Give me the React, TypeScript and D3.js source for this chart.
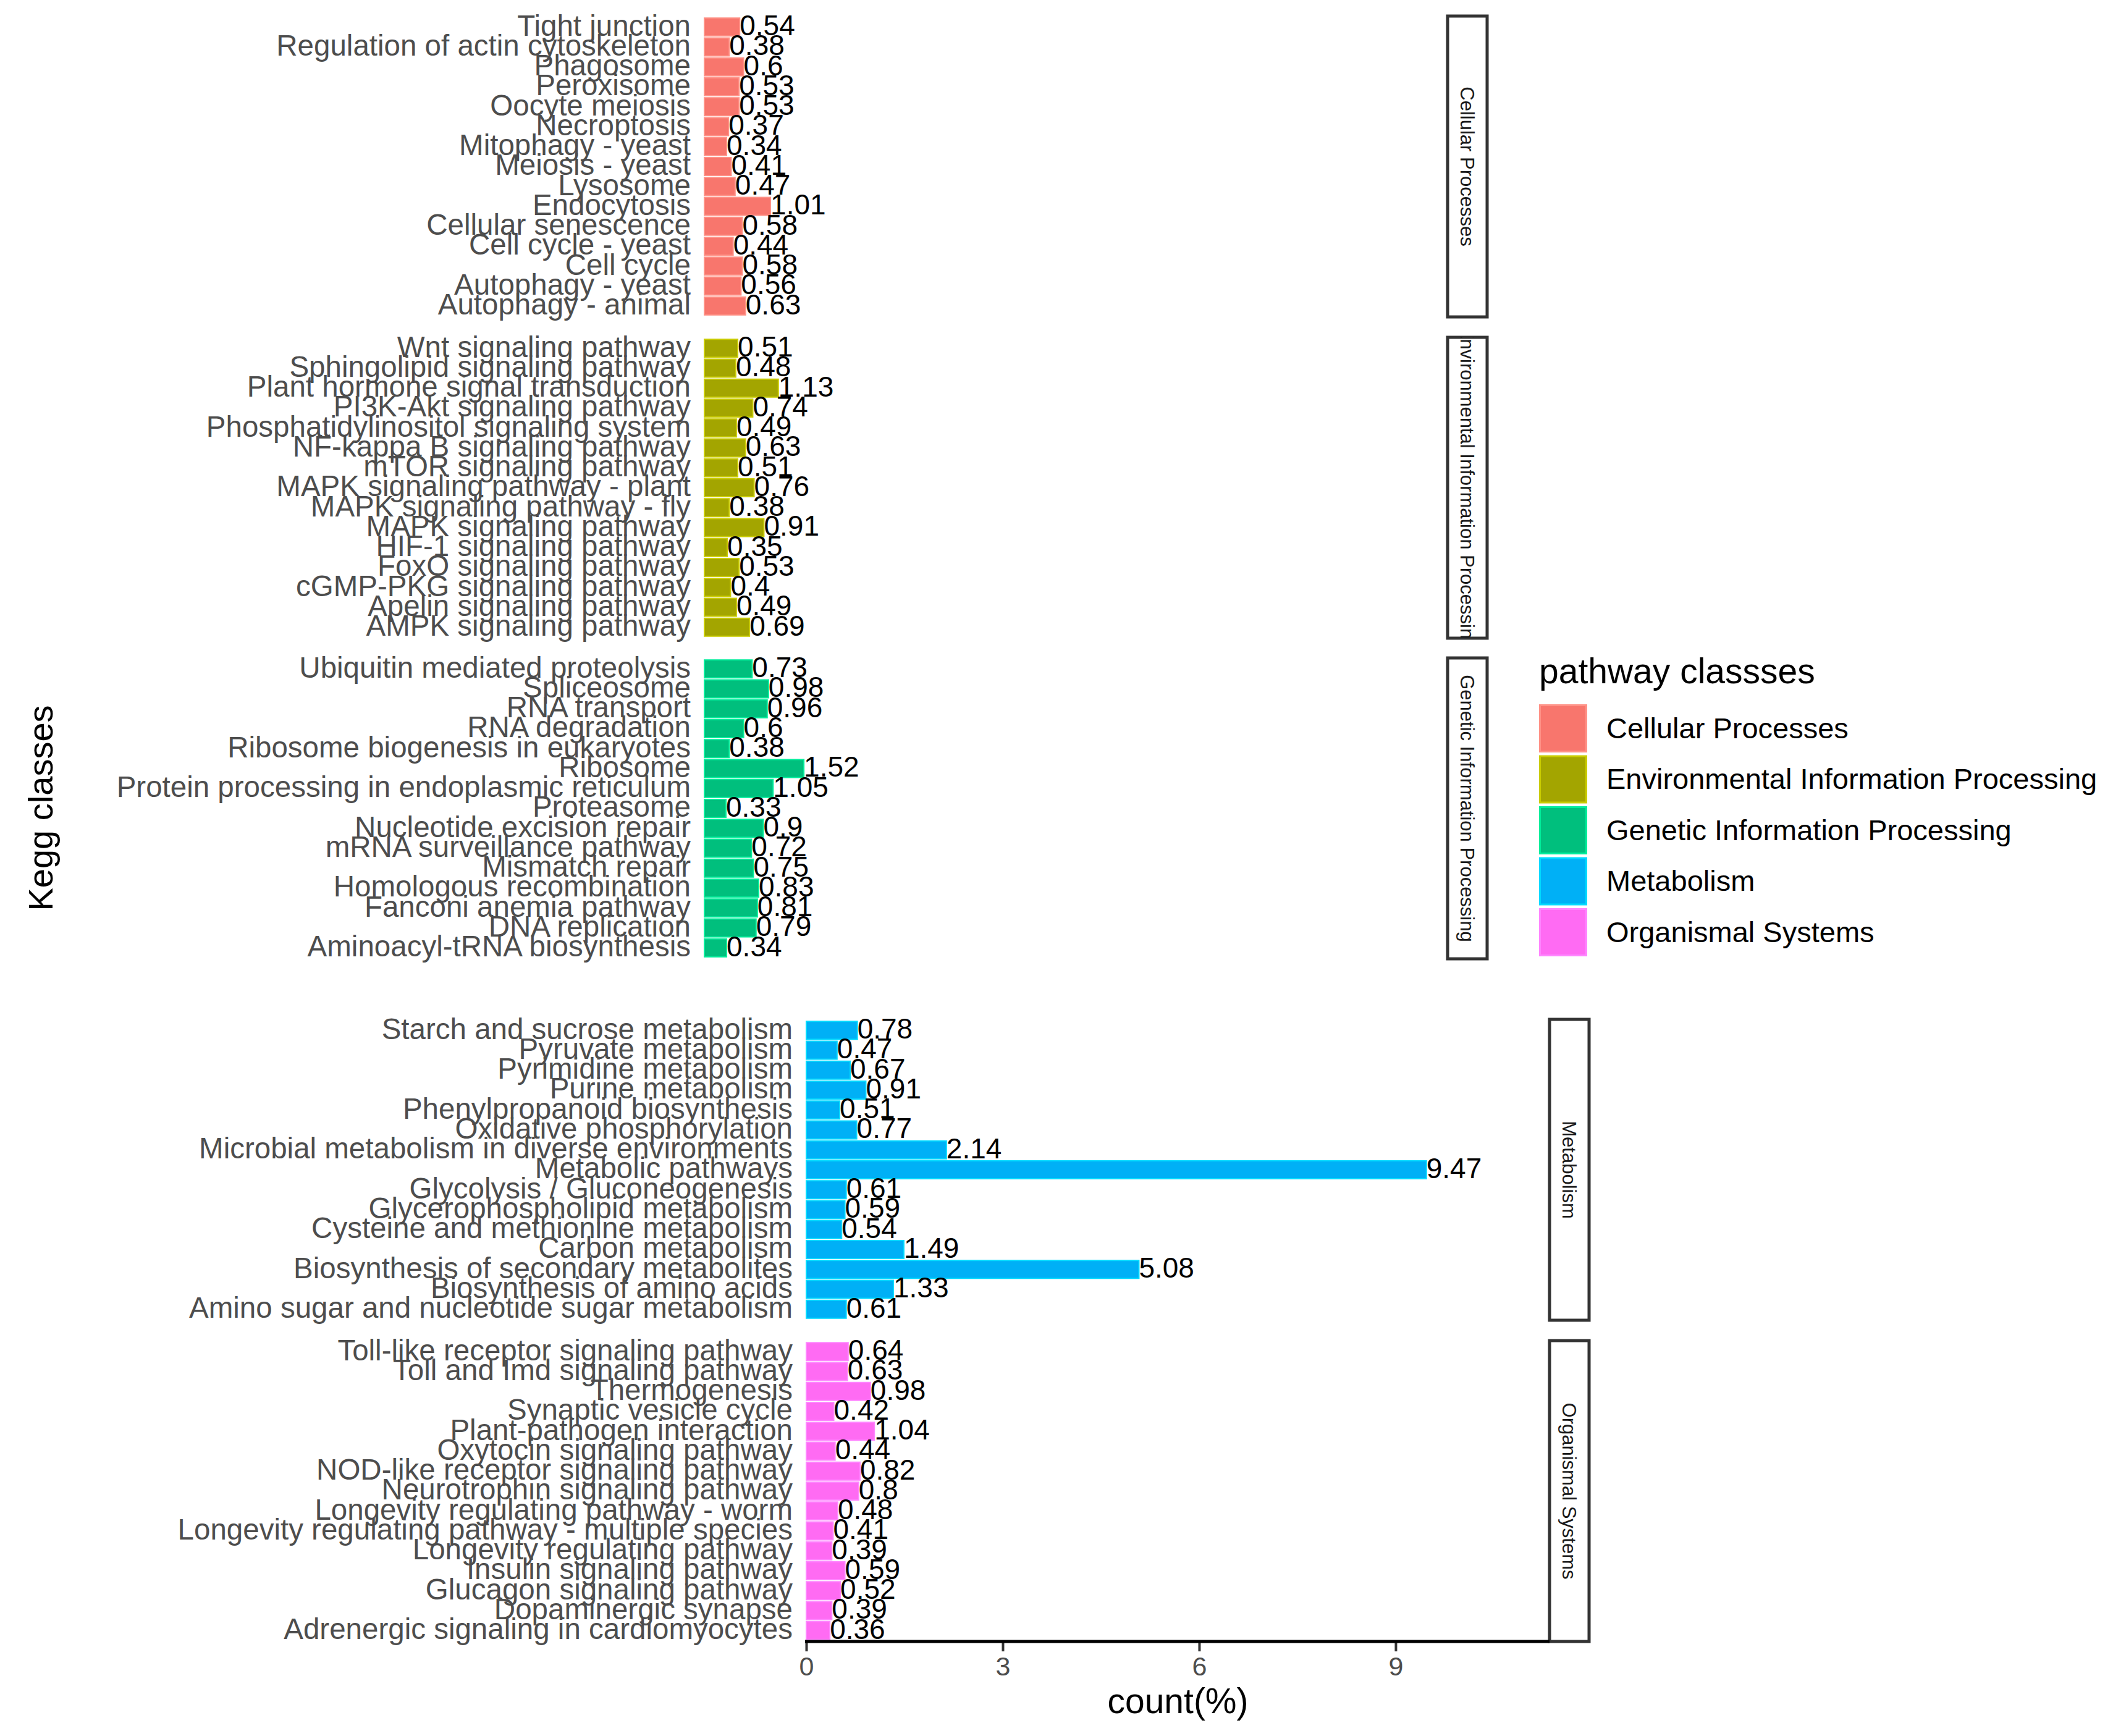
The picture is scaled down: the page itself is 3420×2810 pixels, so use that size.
import { useEffect, useRef } from "react";
import * as d3 from "d3";

// categories listed top to bottom as they appear in each facet
const cellularLabels = [
  "Tight junction", "Regulation of actin cytoskeleton", "Phagosome", "Peroxisome",
  "Oocyte meiosis", "Necroptosis", "Mitophagy - yeast", "Meiosis - yeast", "Lysosome",
  "Endocytosis", "Cellular senescence", "Cell cycle - yeast", "Cell cycle",
  "Autophagy - yeast", "Autophagy - animal",
];
const cellularValues = [0.54, 0.38, 0.6, 0.53, 0.53, 0.37, 0.34, 0.41, 0.47, 1.01, 0.58, 0.44, 0.58, 0.56, 0.63];

const environmentalLabels = [
  "Wnt signaling pathway", "Sphingolipid signaling pathway", "Plant hormone signal transduction",
  "PI3K-Akt signaling pathway", "Phosphatidylinositol signaling system", "NF-kappa B signaling pathway",
  "mTOR signaling pathway", "MAPK signaling pathway - plant", "MAPK signaling pathway - fly",
  "MAPK signaling pathway", "HIF-1 signaling pathway", "FoxO signaling pathway",
  "cGMP-PKG signaling pathway", "Apelin signaling pathway", "AMPK signaling pathway",
];
const environmentalValues = [0.51, 0.48, 1.13, 0.74, 0.49, 0.63, 0.51, 0.76, 0.38, 0.91, 0.35, 0.53, 0.4, 0.49, 0.69];

const geneticLabels = [
  "Ubiquitin mediated proteolysis", "Spliceosome", "RNA transport", "RNA degradation",
  "Ribosome biogenesis in eukaryotes", "Ribosome", "Protein processing in endoplasmic reticulum",
  "Proteasome", "Nucleotide excision repair", "mRNA surveillance pathway", "Mismatch repair",
  "Homologous recombination", "Fanconi anemia pathway", "DNA replication", "Aminoacyl-tRNA biosynthesis",
];
const geneticValues = [0.73, 0.98, 0.96, 0.6, 0.38, 1.52, 1.05, 0.33, 0.9, 0.72, 0.75, 0.83, 0.81, 0.79, 0.34];

const metabolismLabels = [
  "Starch and sucrose metabolism", "Pyruvate metabolism", "Pyrimidine metabolism", "Purine metabolism",
  "Phenylpropanoid biosynthesis", "Oxidative phosphorylation", "Microbial metabolism in diverse environments",
  "Metabolic pathways", "Glycolysis / Gluconeogenesis", "Glycerophospholipid metabolism",
  "Cysteine and methionine metabolism", "Carbon metabolism", "Biosynthesis of secondary metabolites",
  "Biosynthesis of amino acids", "Amino sugar and nucleotide sugar metabolism",
];
const metabolismValues = [0.78, 0.47, 0.67, 0.91, 0.51, 0.77, 2.14, 9.47, 0.61, 0.59, 0.54, 1.49, 5.08, 1.33, 0.61];

const organismalLabels = [
  "Toll-like receptor signaling pathway", "Toll and Imd signaling pathway", "Thermogenesis",
  "Synaptic vesicle cycle", "Plant-pathogen interaction", "Oxytocin signaling pathway",
  "NOD-like receptor signaling pathway", "Neurotrophin signaling pathway",
  "Longevity regulating pathway - worm", "Longevity regulating pathway - multiple species",
  "Longevity regulating pathway", "Insulin signaling pathway", "Glucagon signaling pathway",
  "Dopaminergic synapse", "Adrenergic signaling in cardiomyocytes",
];
const organismalValues = [0.64, 0.63, 0.98, 0.42, 1.04, 0.44, 0.82, 0.8, 0.48, 0.41, 0.39, 0.59, 0.52, 0.39, 0.36];

const classNames = [
  "Cellular Processes", "Environmental Information Processing", "Genetic Information Processing",
  "Metabolism", "Organismal Systems",
];
const classColors = ["#F8766D", "#A3A500", "#00BF7D", "#00B0F6", "#FF6BF3"];
const xTicks = [0, 3, 6, 9];

const FONT = "'Liberation Sans', Arial, sans-serif";

export default function App() {
  const svgRef = useRef<SVGSVGElement>(null);

  useEffect(() => {
    if (!svgRef.current) return;
    const svg = d3.select(svgRef.current);
    svg.selectAll("*").remove();

    const width = 3420;
    const height = 2810;
    svg.attr("width", width).attr("height", height);
    svg.append("rect").attr("width", width).attr("height", height).attr("fill", "#fff");

    const groups = [
      { labels: cellularLabels, values: cellularValues },
      { labels: environmentalLabels, values: environmentalValues },
      { labels: geneticLabels, values: geneticValues },
      { labels: metabolismLabels, values: metabolismValues },
      { labels: organismalLabels, values: organismalValues },
    ];

    const panelW = 1203;
    const panelH = 487;
    const stripW = 64;
    const x = d3.scaleLinear().domain([0, 11.35]).range([0, panelW]);

    // top plot (3 facets) and bottom plot (2 facets)
    const layout = [
      { left: 1140, top: 26 },
      { left: 1140, top: 546 },
      { left: 1140, top: 1065 },
      { left: 1305, top: 1650 },
      { left: 1305, top: 2170 },
    ];

    groups.forEach((grp, i) => {
      const { left, top } = layout[i];
      const color = classColors[i];
      const y = d3.scaleBand<string>().domain(grp.labels).range([top, top + panelH]).padding(0.1);
      const g = svg.append("g").attr("transform", `translate(${left},0)`);

      g.selectAll("rect.bar")
        .data(grp.labels)
        .enter()
        .append("rect")
        .attr("class", "bar")
        .attr("x", 0)
        .attr("y", (d) => y(d)!)
        .attr("width", (_d, j) => x(grp.values[j]))
        .attr("height", y.bandwidth())
        .attr("fill", color)
        .attr("stroke", d3.color(color)!.brighter(0.6).formatHex())
        .attr("stroke-width", 2);

      // category labels
      g.selectAll("text.cat")
        .data(grp.labels)
        .enter()
        .append("text")
        .attr("x", -22)
        .attr("y", (d) => y(d)! + y.bandwidth() / 2)
        .attr("dy", "0.29em")
        .attr("text-anchor", "end")
        .attr("fill", "#4D4D4D")
        .attr("font-family", FONT)
        .attr("font-size", 47.5)
        .text((d) => d);

      // value labels
      g.selectAll("text.val")
        .data(grp.labels)
        .enter()
        .append("text")
        .attr("x", (_d, j) => x(grp.values[j]))
        .attr("y", (d) => y(d)! + y.bandwidth() / 2)
        .attr("dy", "0.29em")
        .attr("fill", "#000")
        .attr("font-family", FONT)
        .attr("font-size", 46)
        .text((_d, j) => String(grp.values[j]));

      // strip on the right
      const sx = left + panelW;
      const clipId = `strip-clip-${i}`;
      svg.append("clipPath")
        .attr("id", clipId)
        .append("rect")
        .attr("x", sx)
        .attr("y", top)
        .attr("width", stripW)
        .attr("height", panelH);
      svg.append("rect")
        .attr("x", sx)
        .attr("y", top)
        .attr("width", stripW)
        .attr("height", panelH)
        .attr("fill", "#fff")
        .attr("stroke", "#333")
        .attr("stroke-width", 5);
      svg.append("g")
        .attr("clip-path", `url(#${clipId})`)
        .append("text")
        .attr("transform", `translate(${sx + stripW / 2},${top + panelH / 2}) rotate(90)`)
        .attr("text-anchor", "middle")
        .attr("dy", "0.35em")
        .attr("fill", "#1A1A1A")
        .attr("font-family", FONT)
        .attr("font-size", 31)
        .text(classNames[i]);
    });

    // x axis for the bottom plot
    const axisY = layout[4].top + panelH;
    const axisLeft = layout[4].left;
    const axis = svg.append("g")
      .attr("transform", `translate(${axisLeft},${axisY})`)
      .call(d3.axisBottom(x).tickValues(xTicks).tickSize(16).tickPadding(8).tickFormat(d3.format("d")));
    axis.select(".domain").remove();
    axis.selectAll(".tick line").attr("stroke", "#333").attr("stroke-width", 4);
    axis.selectAll(".tick text")
      .attr("fill", "#4D4D4D")
      .attr("font-family", FONT)
      .attr("font-size", 43);
    svg.append("line")
      .attr("x1", axisLeft - 2)
      .attr("x2", axisLeft + panelW)
      .attr("y1", axisY)
      .attr("y2", axisY)
      .attr("stroke", "#000")
      .attr("stroke-width", 5);

    // axis titles
    svg.append("text")
      .attr("x", axisLeft + panelW / 2)
      .attr("y", 2752)
      .attr("dy", "0.36em")
      .attr("text-anchor", "middle")
      .attr("fill", "#000")
      .attr("font-family", FONT)
      .attr("font-size", 57)
      .text("count(%)");
    svg.append("text")
      .attr("transform", "translate(65,1308) rotate(-90)")
      .attr("dy", "0.36em")
      .attr("text-anchor", "middle")
      .attr("fill", "#000")
      .attr("font-family", FONT)
      .attr("font-size", 56)
      .text("Kegg classes");

    // legend
    const legend = svg.append("g").attr("transform", "translate(2491,0)");
    legend.append("text")
      .attr("x", 0)
      .attr("y", 1106)
      .attr("fill", "#000")
      .attr("font-family", FONT)
      .attr("font-size", 57)
      .text("pathway classses");
    const keySize = 78;
    const keyStep = 82.5;
    classNames.forEach((name, i) => {
      const ky = 1140 + i * keyStep;
      legend.append("rect")
        .attr("x", 1.5)
        .attr("y", ky + 1.5)
        .attr("width", keySize - 3)
        .attr("height", keySize - 3)
        .attr("fill", classColors[i])
        .attr("stroke", d3.color(classColors[i])!.brighter(0.6).formatHex())
        .attr("stroke-width", 3);
      legend.append("text")
        .attr("x", 109)
        .attr("y", ky + keySize / 2)
        .attr("dy", "0.33em")
        .attr("fill", "#000")
        .attr("font-family", FONT)
        .attr("font-size", 47)
        .text(name);
    });
  }, []);

  return (
    <svg
      ref={svgRef}
      style={{ position: "absolute", left: 0, top: 0, display: "block" }}
    />
  );
}
